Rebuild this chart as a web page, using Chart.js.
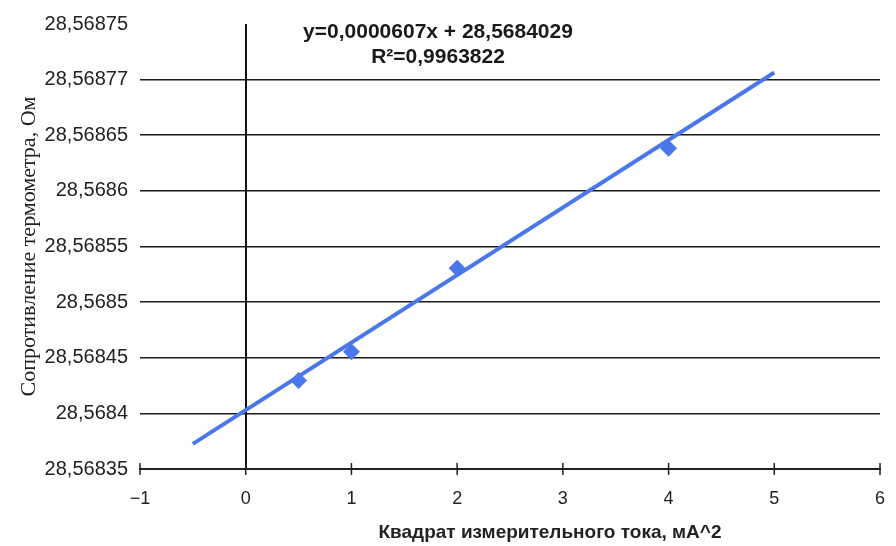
<!DOCTYPE html>
<html>
<head>
<meta charset="utf-8">
<script src="https://cdn.jsdelivr.net/npm/chart.js@4/dist/chart.umd.min.js"></script>
<style>
  html, body { margin: 0; padding: 0; background: #fff; }
  #wrap { width: 896px; height: 546px; }
</style>
</head>
<body>
<div id="wrap"><canvas id="chart" width="896" height="546"></canvas></div>
<script>
// measured points (x = I^2, y = R)
const xValues = [0.5, 1, 2, 4];
const yValues = [28.5684295, 28.5684554, 28.5685304, 28.5686384];

// linear trend drawn from -0.5 to 5
const trendX = [-0.5, 5];
const trendY = [28.5683726, 28.5687064];

const xTickValues = [-1, 0, 1, 2, 3, 4, 5, 6];
const xTickLabels = ['\u22121', '0', '1', '2', '3', '4', '5', '6'];
const yTickValues = [28.56835, 28.5684, 28.56845, 28.5685, 28.56855, 28.5686, 28.56865, 28.5687, 28.56875];
const yTickLabels = ['28,56835', '28,5684', '28,56845', '28,5685', '28,56855', '28,5686', '28,56865', '28,56877', '28,56875'];

const eqLines = ['y=0,0000607x + 28,5684029', 'R\u00B2=0,9963822'];
const xTitle = 'Квадрат измерительного тока, мА^2';

const blue = '#4a78ea';

// tick marks crossing the x axis, x title (off-centre like the original) and equation text
const extras = {
    id: 'extras',
    afterDraw(chart) {
        const c = chart.ctx;
        const xs = chart.scales.x;
        const bottom = chart.chartArea.bottom;
        c.save();
        c.strokeStyle = '#222';
        c.lineWidth = 1.5;
        xTickValues.forEach(v => {
            const px = xs.getPixelForValue(v);
            c.beginPath();
            c.moveTo(px, bottom - 6);
            c.lineTo(px, bottom + 6);
            c.stroke();
        });
        c.fillStyle = '#1a1a1a';
        c.textAlign = 'center';
        c.textBaseline = 'middle';
        c.font = 'bold 21px "Liberation Sans", Arial, sans-serif';
        c.fillText(eqLines[0], 438, 32);
        c.fillText(eqLines[1], 438, 57);
        c.fillStyle = '#222';
        c.font = 'bold 19px "Liberation Sans", Arial, sans-serif';
        c.fillText(xTitle, 550, 533);
        c.restore();
    }
};

let ctx = document.getElementById('chart').getContext('2d');

let chart = new Chart(ctx, {
    type: 'scatter',
    data: {
        datasets: [
            {
                label: 'trend',
                type: 'line',
                data: trendX.map((x, i) => ({ x: x, y: trendY[i] })),
                borderColor: blue,
                borderWidth: 4,
                pointRadius: 0,
                fill: false,
                order: 2
            },
            {
                label: 'R',
                data: xValues.map((x, i) => ({ x: x, y: yValues[i] })),
                pointStyle: 'rectRot',
                pointRadius: 8.5,
                backgroundColor: blue,
                borderColor: blue,
                borderWidth: 0,
                order: 1
            }
        ]
    },
    options: {
        responsive: false,
        animation: false,
        layout: { padding: { left: 0, top: 22, right: 16, bottom: 0 } },
        plugins: {
            legend: { display: false },
            tooltip: { enabled: false }
        },
        scales: {
            x: {
                type: 'linear',
                min: -1,
                max: 6,
                afterBuildTicks: s => { s.ticks = xTickValues.map(v => ({ value: v })); },
                afterFit: s => { s.height = 77; s.paddingRight = 0; s.paddingLeft = 0; },
                ticks: {
                    padding: 19,
                    color: '#222',
                    font: { family: '"Liberation Sans", Arial, sans-serif', size: 18 },
                    callback: (v, i) => xTickLabels[i]
                },
                grid: {
                    drawTicks: false,
                    lineWidth: 2,
                    color: c => (c.tick && c.tick.value === 0) ? '#111' : 'transparent'
                },
                border: { display: true, color: '#222', width: 2 },
                title: { display: false }
            },
            y: {
                type: 'linear',
                min: 28.56835,
                max: 28.56875,
                afterBuildTicks: s => { s.ticks = yTickValues.map(v => ({ value: v })); },
                afterFit: s => { s.width = 140; },
                ticks: {
                    padding: 12,
                    color: '#222',
                    font: { family: '"Liberation Sans", Arial, sans-serif', size: 20 },
                    callback: (v, i) => yTickLabels[i]
                },
                grid: {
                    drawTicks: false,
                    lineWidth: 1.5,
                    color: c => (c.index === 0 || c.index === yTickValues.length - 1) ? 'transparent' : '#1a1a1a'
                },
                border: { display: false },
                title: {
                    display: true,
                    text: 'Сопротивление термометра, Ом',
                    color: '#222',
                    font: { family: '"Liberation Serif", "Times New Roman", serif', size: 22 },
                    padding: { top: 16, bottom: 0 }
                }
            }
        }
    },
    plugins: [extras]
});
</script>
</body>
</html>
